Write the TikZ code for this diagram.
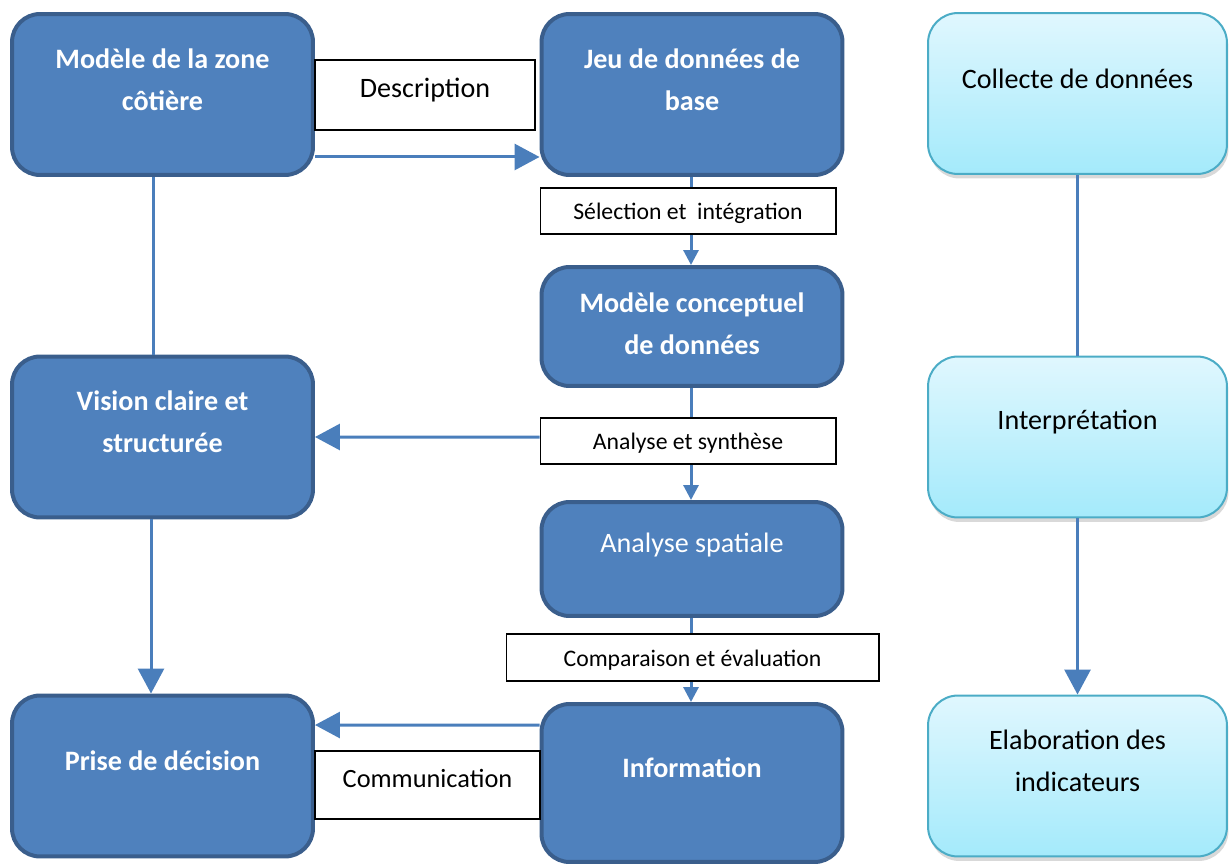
\documentclass[tikz,border=0pt]{standalone}
\usepackage{fontspec}
\setmainfont{Carlito}
\usetikzlibrary{arrows.meta,shadows}
\definecolor{boxblue}{HTML}{4F81BD}
\definecolor{edgeblue}{HTML}{3A5E8C}
\definecolor{linkblue}{HTML}{4A7EBB}
\definecolor{skytop}{HTML}{E0F7FE}
\definecolor{skybot}{HTML}{A4EAFB}
\definecolor{skyedge}{HTML}{4BACC6}
\begin{document}
\begin{tikzpicture}[x=0.02cm,y=-0.02cm,
  bluebox/.style={draw=edgeblue,line width=0.08cm,fill=boxblue,rounded corners=0.56cm,minimum width=6.02cm,minimum height=3.22cm,inner sep=0pt},
  skybox/.style={draw=skyedge,line width=0.04cm,top color=skytop,bottom color=skybot,rounded corners=0.6cm,minimum width=5.98cm,minimum height=3.22cm,inner sep=0pt,drop shadow={shadow xshift=0.03cm,shadow yshift=-0.09cm,opacity=0.3}},
  bluetxt/.style={text=white,font=\fontsize{16}{23.9}\selectfont\bfseries,align=center,yshift=0.3cm},
  plaintxt/.style={text=white,font=\fontsize{16}{23.9}\selectfont,align=center,yshift=0.28cm},
  skytxt/.style={text=black,font=\fontsize{16}{23.9}\selectfont,align=center,yshift=0.3cm},
  tag/.style={draw=black,line width=0.6pt,fill=white,inner sep=0pt,font=\fontsize{13.5}{16}\selectfont,text height=0.44cm,text depth=0.1cm},
  bigtag/.style={tag,font=\fontsize{16}{19}\selectfont,text height=0.37cm,text depth=0.29cm},
  link/.style={draw=linkblue,line width=0.06cm},
  bigtip/.style={link,-{Triangle[length=0.5cm,width=0.52cm]}},
  smalltip/.style={link,-{Triangle[length=0.3cm,width=0.3cm]}}]
\useasboundingbox (0,0) rectangle (1230,865);

% left column
\node[bluebox,label={[bluetxt,name=mzc-t]center:{Modèle de la zone\\côtière}}] (mzc) at (162.5,94.5) {};
\node[bluebox,label={[bluetxt,name=vcs-t]center:{Vision claire et\\structurée}}] (vcs) at (162.5,437) {};
\node[bluebox,label={[bluetxt,name=pdd-t]center:{Prise de décision}}] (pdd) at (162.5,776) {};

% middle column
\node[bluebox,label={[bluetxt,name=jdb-t]center:{Jeu de données de\\base}}] (jdb) at (692,94.5) {};
\node[bluebox,minimum height=2.38cm,label={[bluetxt,yshift=-0.24cm,name=mcd-t]center:{Modèle conceptuel\\de données}}] (mcd) at (692,326.5) {};
\node[bluebox,minimum height=2.28cm,label={[plaintxt,name=asp-t]center:{Analyse spatiale}}] (asp) at (692,559) {};
\node[bluebox,minimum height=3.16cm,label={[bluetxt,name=inf-t]center:{Information}}] (inf) at (692,783) {};

% right column
\node[skybox,label={[skytxt,name=col-t]center:{Collecte de données}}] (col) at (1077.5,93.5) {};
\node[skybox,label={[skytxt,name=int-t]center:{Interprétation}}] (int) at (1077.5,437) {};
\node[skybox,label={[skytxt,name=ela-t]center:{Elaboration des\\indicateurs}}] (ela) at (1077.5,776) {};

% links
\draw[bigtip] ([yshift=-1.25cm]mzc.east) -- ([yshift=-1.25cm]jdb.west);
\draw[smalltip] ([xshift=-0.02cm]jdb.south) -- ([xshift=-0.02cm]mcd.north);
\draw[smalltip] ([xshift=-0.02cm]mcd.south) -- ([xshift=-0.02cm]asp.north);
\draw[smalltip] ([xshift=-0.02cm]asp.south) -- ([xshift=-0.02cm]inf.north);
\draw[link] ([xshift=-0.19cm]mzc.south) -- ([xshift=-0.19cm]vcs.north);
\draw[bigtip] ([xshift=-0.23cm]vcs.south) -- ([xshift=-0.23cm]pdd.north);
\draw[link] (col.south) -- (int.north);
\draw[bigtip] (int.south) -- (ela.north);

% labels
\node[bigtag,minimum width=4.4cm,minimum height=1.4cm] (desc) at (425,95) {Description};
\node[tag,minimum width=5.92cm,minimum height=0.92cm] (sel) at (688,211) {Sélection et\ \ intégration};
\node[tag,minimum width=5.92cm,minimum height=0.92cm] (ans) at (688,441) {Analyse et synthèse};
\node[tag,minimum width=7.46cm,minimum height=0.94cm] (cmp) at (692.5,657.5) {Comparaison et évaluation};
\node[bigtag,minimum width=4.5cm,minimum height=1.36cm,font=\fontsize{15}{18}\selectfont] (com) at (427.5,785) {Communication};

\draw[bigtip] ([yshift=0.08cm]ans.west) -- (vcs.east);
\draw[bigtip] ([yshift=1.16cm]inf.west) -- ([yshift=1.02cm]pdd.east);
\end{tikzpicture}
\end{document}
